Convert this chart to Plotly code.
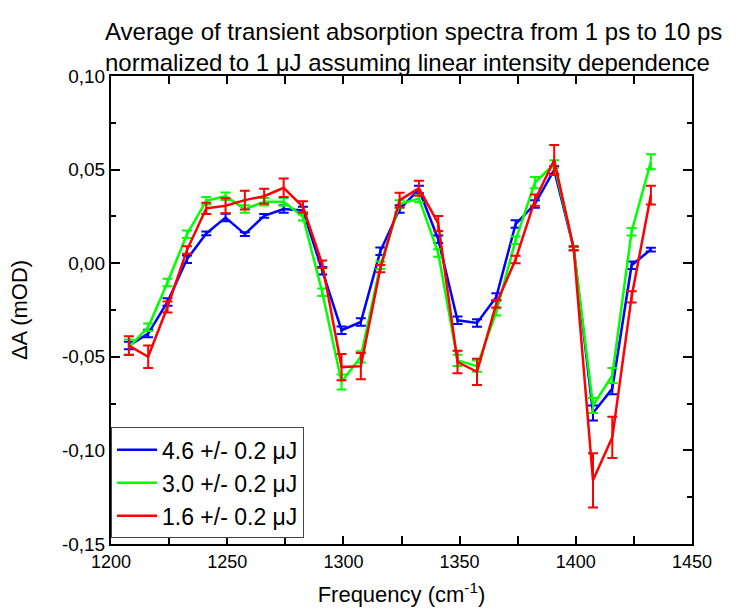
import plotly.graph_objects as go

freq = [1207.7, 1216.0, 1224.3, 1232.7, 1241.0, 1249.3, 1257.6, 1265.9, 1274.3, 1282.6,
        1290.9, 1299.2, 1307.5, 1315.9, 1324.2, 1332.5, 1340.8, 1349.1, 1357.5, 1365.8,
        1374.1, 1382.4, 1390.7, 1399.1, 1407.4, 1415.7, 1424.0, 1432.3]

blue_y = [-0.044, -0.0376, -0.0207, 0.0021, 0.0159, 0.0244, 0.0155, 0.0253, 0.0289, 0.0282,
          -0.0040, -0.0358, -0.0314, 0.0064, 0.0289, 0.0394, 0.0128, -0.0305, -0.0319, -0.0180,
          0.0209, 0.0316, 0.0498, 0.0079, -0.0800, -0.0670, -0.0011, 0.0073]
blue_err = [0.002, 0.002, 0.002, 0.002, 0.001, 0.002, 0.001, 0.001, 0.002, 0.002,
            0.002, 0.002, 0.002, 0.002, 0.002, 0.002, 0.002, 0.002, 0.002, 0.002,
            0.002, 0.002, 0.002, 0.001, 0.004, 0.003, 0.002, 0.001]

green_y = [-0.0448, -0.0342, -0.0103, 0.0155, 0.0333, 0.0358, 0.0289, 0.0328, 0.0328, 0.0248,
           -0.0155, -0.0635, -0.0500, -0.0011, 0.0316, 0.0346, 0.0055, -0.0519, -0.0550, -0.0260,
           0.0123, 0.0430, 0.0530, 0.0079, -0.0760, -0.0600, 0.0168, 0.0542]
green_err = [0.004, 0.002, 0.002, 0.002, 0.002, 0.002, 0.002, 0.002, 0.002, 0.002,
             0.002, 0.004, 0.003, 0.002, 0.002, 0.002, 0.002, 0.003, 0.003, 0.002,
             0.002, 0.003, 0.002, 0.001, 0.004, 0.004, 0.002, 0.004]

red_y = [-0.0440, -0.0500, -0.0234, 0.0070, 0.0293, 0.0307, 0.0337, 0.0358, 0.0403, 0.0301,
         -0.0005, -0.0555, -0.0550, -0.0029, 0.0337, 0.0400, 0.0212, -0.0528, -0.0580, -0.0216,
         0.0020, 0.0337, 0.0551, 0.0079, -0.1160, -0.0930, -0.0180, 0.0364]
red_err = [0.005, 0.006, 0.003, 0.002, 0.003, 0.004, 0.005, 0.004, 0.005, 0.003,
           0.002, 0.007, 0.007, 0.002, 0.004, 0.004, 0.004, 0.006, 0.007, 0.002,
           0.002, 0.003, 0.008, 0.001, 0.0145, 0.011, 0.003, 0.005]

names = ["4.6 +/- 0.2 \u03bcJ", "3.0 +/- 0.2 \u03bcJ", "1.6 +/- 0.2 \u03bcJ"]
colors = ["#0000FF", "#00FF00", "#FF0000"]

y_ticks = [0.10, 0.05, 0.0, -0.05, -0.10, -0.15]
y_labels = ["0,10", "0,05", "0,00", "-0,05", "-0,10", "-0,15"]
x_ticks = [1200, 1250, 1300, 1350, 1400, 1450]
x_labels = ["1200", "1250", "1300", "1350", "1400", "1450"]

title_lines = ["Average of transient absorption spectra from 1 ps to 10 ps",
               "normalized to 1 \u03bcJ assuming linear intensity dependence"]

FONT = "Liberation Sans, Arial, sans-serif"

fig = go.Figure()
for ys, es, nm, col in [(blue_y, blue_err, names[0], colors[0]),
                        (green_y, green_err, names[1], colors[1]),
                        (red_y, red_err, names[2], colors[2])]:
    fig.add_trace(go.Scatter(
        x=freq, y=ys, mode="lines", name=nm,
        line=dict(color=col, width=2.5),
        error_y=dict(type="data", array=es, visible=True, color=col, thickness=2, width=5),
    ))

fig.update_layout(
    width=739, height=615,
    margin=dict(l=111, r=47, t=76, b=65),
    paper_bgcolor="white", plot_bgcolor="white",
    font=dict(family=FONT, color="black", size=18),
    showlegend=True,
    legend=dict(
        x=0.0, y=0.012, xanchor="left", yanchor="bottom",
        bgcolor="white", bordercolor="#444444", borderwidth=1,
        font=dict(family=FONT, size=23, color="black"),
        tracegroupgap=0, itemwidth=40,
    ),
    annotations=[dict(
        text="<br>".join(title_lines),
        xref="paper", yref="paper", x=0.52, y=1.128,
        xanchor="center", yanchor="top", align="left",
        showarrow=False,
        font=dict(family=FONT, size=24, color="black"),
    )],
)

fig.update_xaxes(
    range=[1200, 1450], showgrid=False, zeroline=False,
    showline=True, linecolor="black", linewidth=2, mirror="allticks",
    ticks="inside", ticklen=8, tickwidth=1.5, tickcolor="black",
    tickvals=x_ticks, ticktext=x_labels,
    tickfont=dict(size=18),
    minor=dict(dtick=25, ticks="inside", ticklen=8, tickwidth=1.5, tickcolor="black", showgrid=False),
    title=dict(text="Frequency (cm<sup>-1</sup>)", font=dict(size=22), standoff=16),
)
fig.update_yaxes(
    range=[-0.15, 0.10], showgrid=False, zeroline=False,
    showline=True, linecolor="black", linewidth=2, mirror="allticks",
    ticks="inside", ticklen=9, tickwidth=1.5, tickcolor="black",
    tickvals=y_ticks, ticktext=y_labels,
    tickfont=dict(size=19),
    minor=dict(dtick=0.025, tick0=0, ticks="inside", ticklen=5, tickwidth=1.5, tickcolor="black", showgrid=False),
    title=dict(text="\u0394A (mOD)", font=dict(size=22), standoff=28),
)

fig.write_html("out.html")
